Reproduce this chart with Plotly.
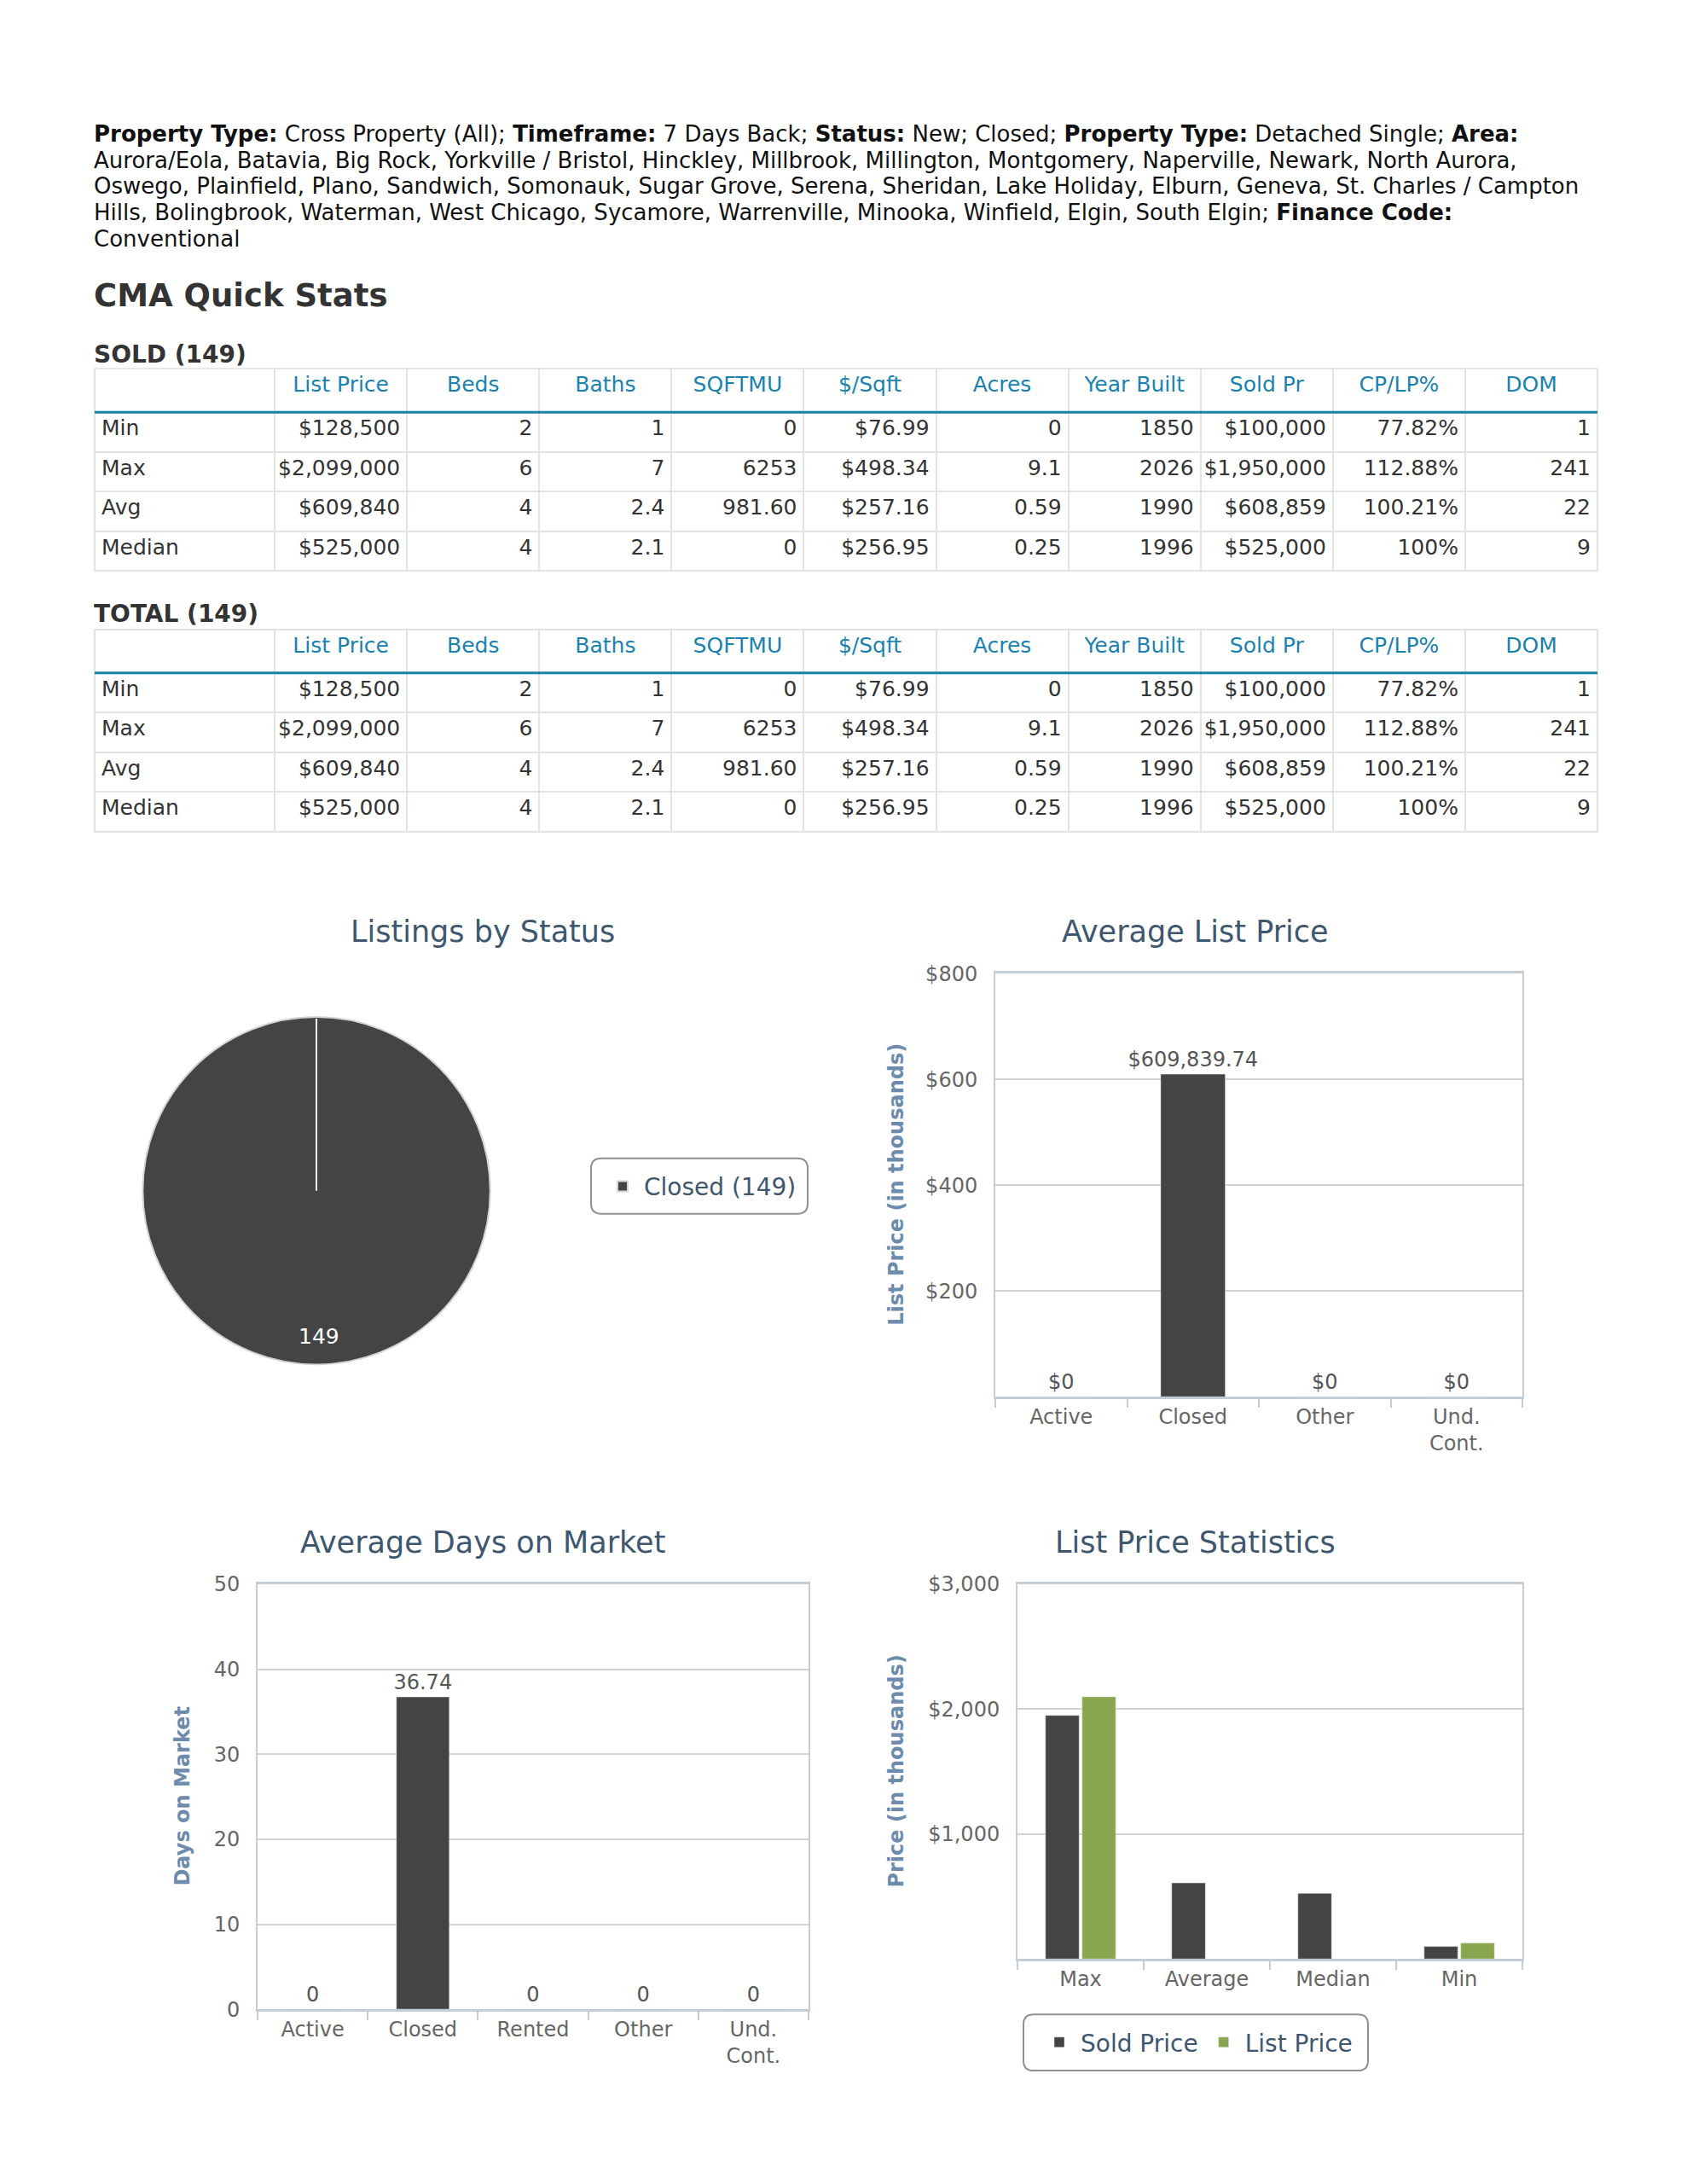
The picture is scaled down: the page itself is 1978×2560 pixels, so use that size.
import plotly.graph_objects as go

W, H = 1978, 2560

# --- quick stats tables ---
stat_cols = ["", "List Price", "Beds", "Baths", "SQFTMU", "$/Sqft", "Acres",
             "Year Built", "Sold Pr", "CP/LP%", "DOM"]
row_labels = ["Min", "Max", "Avg", "Median"]
list_price = ["$128,500", "$2,099,000", "$609,840", "$525,000"]
beds = ["2", "6", "4", "4"]
baths = ["1", "7", "2.4", "2.1"]
sqftmu = ["0", "6253", "981.60", "0"]
per_sqft = ["$76.99", "$498.34", "$257.16", "$256.95"]
acres = ["0", "9.1", "0.59", "0.25"]
year_built = ["1850", "2026", "1990", "1996"]
sold_pr = ["$100,000", "$1,950,000", "$608,859", "$525,000"]
cp_lp = ["77.82%", "112.88%", "100.21%", "100%"]
dom = ["1", "241", "22", "9"]

# --- charts ---
pie_status = ["Closed"]
pie_counts = [149]

avg_list_cats = ["Active", "Closed", "Other", "Und.<br>Cont."]
avg_list_vals = [0, 609839.74, 0, 0]
avg_list_ticks = [200, 400, 600, 800]

dom_cats = ["Active", "Closed", "Rented", "Other", "Und.<br>Cont."]
dom_vals = [0, 36.74, 0, 0, 0]

stat_cats = ["Max", "Average", "Median", "Min"]
sold_price = [1950000, 608859, 525000, 100000]
list_price_stat = [2099000, None, None, 128500]
stat_ticks = [1000, 2000, 3000]

DARK = "#444444"
GREEN = "#89a54e"
TITLE_C = "#3e576f"
AXT_C = "#6d8bad"
TICK_C = "#666666"


# page pixel -> paper (corrects for the page offset seen in the render)
def px(x):
    return (x - 8) / W


def py(y):
    return 1 - ((y - 22) / 0.9907) / H


def round_box(x0, y0, x1, y1, r=12):
    # rounded rectangle path in paper units
    rx, ry = r / W, r / H
    a0, a1, b0, b1 = px(x0), px(x1), py(y1), py(y0)
    return (f"M{a0 + rx},{b0} L{a1 - rx},{b0} Q{a1},{b0} {a1},{b0 + ry} "
            f"L{a1},{b1 - ry} Q{a1},{b1} {a1 - rx},{b1} L{a0 + rx},{b1} "
            f"Q{a0},{b1} {a0},{b1 - ry} L{a0},{b0 + ry} Q{a0},{b0} {a0 + rx},{b0} Z")


fig = go.Figure()

# tables
table_cols = [row_labels, list_price, beds, baths, sqftmu, per_sqft, acres,
              year_built, sold_pr, cp_lp, dom]
for top in (433, 739):
    fig.add_trace(go.Table(
        domain=dict(x=[px(111), px(1873)], y=[py(top + 270), py(top)]),
        columnwidth=[211] + [155] * 10,
        header=dict(values=stat_cols, height=51, align="center",
                    font=dict(family="DejaVu Sans", size=25, color="#1a82b0"),
                    fill_color="white", line=dict(color="#e3e3e3", width=2)),
        cells=dict(values=table_cols, height=46.5,
                   align=["left"] + ["right"] * 10,
                   font=dict(family="DejaVu Sans", size=25, color="#333333"),
                   fill_color="white", line=dict(color="#e3e3e3", width=2)),
    ))
    fig.add_shape(type="line", xref="paper", yref="paper",
                  x0=px(111), x1=px(1873), y0=py(top + 51), y1=py(top + 51),
                  line=dict(color="#1f80aa", width=3), layer="above")

# pie
pc_x, pc_y, pr = 371, 1398, 204
fig.add_trace(go.Pie(
    labels=[f"{s} ({c})" for s, c in zip(pie_status, pie_counts)],
    values=pie_counts,
    domain=dict(x=[px(pc_x - pr), px(pc_x + pr)], y=[py(pc_y + pr), py(pc_y - pr)]),
    marker=dict(colors=[DARK], line=dict(color="#d4d4d4", width=2)),
    textinfo="none", sort=False, hoverinfo="label+value",
    legend="legend",
))
fig.add_shape(type="line", xref="paper", yref="paper",
              x0=px(pc_x), x1=px(pc_x), y0=py(pc_y), y1=py(pc_y - pr + 2),
              line=dict(color="white", width=2))
fig.add_annotation(x=px(pc_x + 3), y=py(pc_y + 0.84 * pr), xref="paper", yref="paper",
                   xanchor="center", yanchor="middle",
                   text=str(pie_counts[0]), showarrow=False,
                   font=dict(size=25, color="white"))

# average list price
fig.add_trace(go.Bar(
    x=avg_list_cats, y=[v / 1000 for v in avg_list_vals],
    text=["$0" if v == 0 else f"${v:,.2f}" for v in avg_list_vals],
    textposition="outside", cliponaxis=False, constraintext="none", width=0.49,
    textfont=dict(size=24, color="#555555"),
    marker=dict(color=DARK), showlegend=False, xaxis="x", yaxis="y",
))

# average days on market
fig.add_trace(go.Bar(
    x=dom_cats, y=dom_vals,
    text=[f"{v:g}" for v in dom_vals],
    textposition="outside", cliponaxis=False, constraintext="none", width=0.48,
    textfont=dict(size=24, color="#555555"),
    marker=dict(color=DARK), showlegend=False, xaxis="x2", yaxis="y2",
))

# list price statistics
fig.add_trace(go.Bar(
    x=stat_cats, y=[v / 1000 if v else None for v in sold_price],
    name="Sold Price", marker=dict(color=DARK),
    xaxis="x3", yaxis="y3", legend="legend2",
))
fig.add_trace(go.Bar(
    x=stat_cats, y=[v / 1000 if v else None for v in list_price_stat],
    name="List Price", marker=dict(color=GREEN),
    xaxis="x3", yaxis="y3", legend="legend2",
))

xax = dict(showline=True, linecolor="#c4ccd6", linewidth=3, mirror=True,
           ticks="outside", tickson="boundaries", ticklen=10, tickcolor="#c4ccd6",
           tickwidth=2, showgrid=False, fixedrange=True,
           tickfont=dict(size=24, color=TICK_C))
yax = dict(showline=True, linecolor="#cccccc", linewidth=2, mirror=True,
           showgrid=True, gridcolor="#d2d2d2", gridwidth=2, zeroline=False,
           ticks="", ticklabelstandoff=14, fixedrange=True,
           tickfont=dict(size=24, color=TICK_C))

fig.update_layout(
    width=W, height=H,
    margin=dict(l=0, r=0, t=0, b=0),
    paper_bgcolor="white", plot_bgcolor="white",
    font=dict(family="DejaVu Sans", color="#333333"),
    barmode="group", bargap=0.42, bargroupgap=0.08,
    xaxis=dict(xax, domain=[px(1167), px(1785)], anchor="y"),
    yaxis=dict(yax, domain=[py(1640), py(1143)], anchor="x", range=[0, 800],
               tickmode="array", tickvals=avg_list_ticks,
               ticktext=[f"${v:,}" for v in avg_list_ticks]),
    xaxis2=dict(xax, domain=[px(302), px(948)], anchor="y2"),
    yaxis2=dict(yax, domain=[py(2359), py(1860)], anchor="x2", range=[0, 50],
                dtick=10),
    xaxis3=dict(xax, domain=[px(1193), px(1785)], anchor="y3"),
    yaxis3=dict(yax, domain=[py(2300), py(1860)], anchor="x3", range=[0, 3000],
                tickmode="array", tickvals=stat_ticks,
                ticktext=[f"${v:,}" for v in stat_ticks]),
    legend=dict(x=px(822), y=py(1393), xanchor="center", yanchor="middle",
                borderwidth=0, bgcolor="rgba(0,0,0,0)",
                itemwidth=40, font=dict(size=28, color=TITLE_C)),
    legend2=dict(x=px(1404), y=py(2398), xanchor="center", yanchor="middle",
                 orientation="h", borderwidth=0, bgcolor="rgba(0,0,0,0)",
                 itemwidth=40, font=dict(size=28, color=TITLE_C)),
)

# rounded legend frames
for box in ((693, 1360, 947, 1425), (1200, 2365, 1604, 2431)):
    fig.add_shape(type="path", xref="paper", yref="paper", path=round_box(*box),
                  line=dict(color="#909090", width=2), fillcolor="rgba(0,0,0,0)",
                  layer="below")

# header text, one annotation per line
header_lines = [
    "<b>Property Type:</b> Cross Property (All); <b>Timeframe:</b> 7 Days Back; "
    "<b>Status:</b> New; Closed; <b>Property Type:</b> Detached Single; <b>Area:</b>",
    "Aurora/Eola, Batavia, Big Rock, Yorkville / Bristol, Hinckley, Millbrook, "
    "Millington, Montgomery, Naperville, Newark, North Aurora,",
    "Oswego, Plainfield, Plano, Sandwich, Somonauk, Sugar Grove, Serena, Sheridan, "
    "Lake Holiday, Elburn, Geneva, St. Charles / Campton",
    "Hills, Bolingbrook, Waterman, West Chicago, Sycamore, Warrenville, Minooka, "
    "Winfield, Elgin, South Elgin; <b>Finance Code:</b>",
    "Conventional",
]
for i, line in enumerate(header_lines):
    fig.add_annotation(x=px(108), y=py(157 + 30.8 * i), xref="paper", yref="paper",
                       xanchor="left", yanchor="middle", align="left",
                       showarrow=False, text=line,
                       font=dict(family="DejaVu Sans", size=26, color="#111111"))

fig.add_annotation(x=px(108), y=py(347), xref="paper", yref="paper",
                   xanchor="left", yanchor="middle", showarrow=False,
                   text="<b>CMA Quick Stats</b>",
                   font=dict(family="DejaVu Sans", size=37, color="#333333"))
for label, yy in (("SOLD (149)", 416), ("TOTAL (149)", 721)):
    fig.add_annotation(x=px(108), y=py(yy), xref="paper", yref="paper",
                       xanchor="left", yanchor="middle", showarrow=False,
                       text=f"<b>{label}</b>",
                       font=dict(family="DejaVu Sans", size=28, color="#333333"))

# chart titles
for title, cx, cy in (("Listings by Status", 566, 1094),
                      ("Average List Price", 1401, 1094),
                      ("Average Days on Market", 566, 1811),
                      ("List Price Statistics", 1401, 1811)):
    fig.add_annotation(x=px(cx), y=py(cy), xref="paper", yref="paper",
                       xanchor="center", yanchor="middle",
                       showarrow=False, text=title,
                       font=dict(size=35, color=TITLE_C))

# axis titles
for title, cx, cy in (("List Price (in thousands)", 1051, 1391),
                      ("Days on Market", 214, 2109),
                      ("Price (in thousands)", 1051, 2080)):
    fig.add_annotation(x=px(cx), y=py(cy), xref="paper", yref="paper",
                       xanchor="center", yanchor="middle",
                       showarrow=False, textangle=-90, text=f"<b>{title}</b>",
                       font=dict(size=24, color=AXT_C))

fig.write_html("out.html")
